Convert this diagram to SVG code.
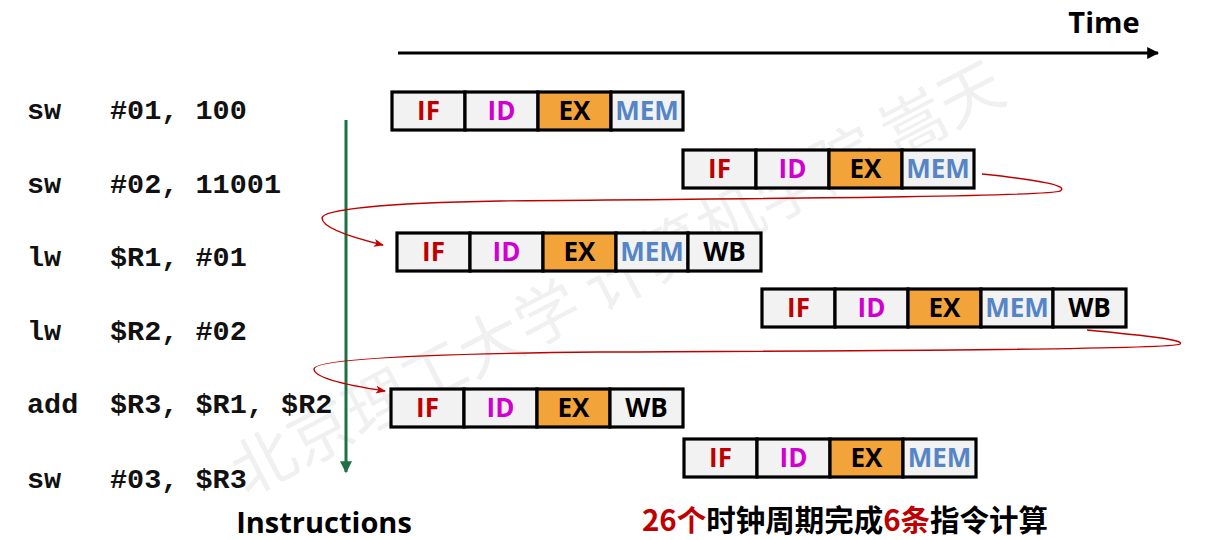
<svg xmlns="http://www.w3.org/2000/svg" width="1216" height="540" viewBox="0 0 1216 540">
<style>
.cell{fill:#f2f2f2;stroke:#000;stroke-width:3.2}
.ex{fill:#f2a33a;stroke:#000;stroke-width:3.2}
.st{font-family:"Open Sans","Noto Sans",sans-serif;font-weight:bold;font-size:26px;text-anchor:middle}
.IF{fill:#c00000}.ID{fill:#d000d0}.EX{fill:#000}.MEM{fill:#5585c5}.WB{fill:#000}
.code{font-family:"Liberation Mono","DejaVu Sans Mono",monospace;font-weight:bold;font-size:28.5px;fill:#111}
.lbl{font-family:"Open Sans","Noto Sans",sans-serif;font-weight:bold;fill:#000}
.cn{font-family:"Noto Sans CJK SC","Noto Sans",sans-serif;font-weight:bold;font-size:29.5px}
.loop{fill:none;stroke:#c00000;stroke-width:1.4}
</style>
<defs>
<marker id="ah" viewBox="0 0 10 10" refX="9" refY="5" markerWidth="10" markerHeight="10" markerUnits="userSpaceOnUse" orient="auto">
<path d="M0,1 L10,5 L0,9 L2.5,5 Z" fill="#c00000"/>
</marker>
<marker id="ahk" viewBox="0 0 10 10" refX="9" refY="5" markerWidth="4" markerHeight="4" orient="auto">
<path d="M0,0 L10,5 L0,10 Z" fill="#000"/>
</marker>
<marker id="ahg" viewBox="0 0 10 10" refX="9" refY="5" markerWidth="4" markerHeight="4" orient="auto">
<path d="M0,0 L10,5 L0,10 Z" fill="#1e7145"/>
</marker>
</defs>
<rect width="1216" height="540" fill="#fff"/>
<g id="watermark">
<text x="246" y="497" transform="rotate(-27.5 246 497)" font-family="Noto Sans CJK SC,sans-serif" font-size="64" fill="#000" fill-opacity="0.06">北京理工大学 计算机学院 嵩天</text>
</g>
<g id="connectors">
<line x1="398" y1="53" x2="1158" y2="53" stroke="#000" stroke-width="3" marker-end="url(#ahk)"/>
<line x1="346" y1="120" x2="346" y2="472" stroke="#1e7145" stroke-width="3" marker-end="url(#ahg)"/>
<path class="loop" marker-end="url(#ah)" d="M982 174 C1040 180 1070 186 1060 191 C1050 197 700 199 500 201 C380 203 322 210 322 218 C322 228 350 237 383 245"/>
<path class="loop" marker-end="url(#ah)" d="M1087 330 C1150 336 1185 340 1180 344 C1172 350 800 351 600 352 C400 354 314 360 314 369 C314 378 345 385 385 391"/>
</g>
<g id="time-label"><text class="lbl" x="1104" y="33" font-size="29" text-anchor="middle">Time</text></g>
<g id="instr1">
<text class="code" x="27" y="119">sw</text><text class="code" x="110" y="119">#01, 100</text>
</g>
<g id="instr2">
<text class="code" x="27" y="193">sw</text><text class="code" x="110" y="193">#02, 11001</text>
</g>
<g id="instr3">
<text class="code" x="27" y="266">lw</text><text class="code" x="110" y="266">$R1, #01</text>
</g>
<g id="instr4">
<text class="code" x="27" y="340">lw</text><text class="code" x="110" y="340">$R2, #02</text>
</g>
<g id="instr5">
<text class="code" x="27" y="413">add</text><text class="code" x="110" y="413">$R3, $R1, $R2</text>
</g>
<g id="instr6">
<text class="code" x="27" y="488">sw</text><text class="code" x="110" y="488">#03, $R3</text>
</g>
<g id="pipe1">
<rect class="cell" x="392" y="92" width="73" height="38"/><rect class="cell" x="465" y="92" width="73" height="38"/><rect class="ex" x="538" y="92" width="73" height="38"/><rect class="cell" x="611" y="92" width="72" height="38"/>
<text class="st IF" x="428.5" y="120">IF</text><text class="st ID" x="501.5" y="120">ID</text><text class="st EX" x="574.5" y="120">EX</text><text class="st MEM" x="647" y="120">MEM</text>
</g>
<g id="pipe2">
<rect class="cell" x="683" y="150" width="73" height="38"/><rect class="cell" x="756" y="150" width="73" height="38"/><rect class="ex" x="829" y="150" width="73" height="38"/><rect class="cell" x="902" y="150" width="72" height="38"/>
<text class="st IF" x="719.5" y="178">IF</text><text class="st ID" x="792.5" y="178">ID</text><text class="st EX" x="865.5" y="178">EX</text><text class="st MEM" x="938" y="178">MEM</text>
</g>
<g id="pipe3">
<rect class="cell" x="397" y="233" width="73" height="38"/><rect class="cell" x="470" y="233" width="73" height="38"/><rect class="ex" x="543" y="233" width="73" height="38"/><rect class="cell" x="616" y="233" width="72" height="38"/><rect class="cell" x="688" y="233" width="73" height="38"/>
<text class="st IF" x="433.5" y="261">IF</text><text class="st ID" x="506.5" y="261">ID</text><text class="st EX" x="579.5" y="261">EX</text><text class="st MEM" x="652" y="261">MEM</text><text class="st WB" x="724.5" y="261">WB</text>
</g>
<g id="pipe4">
<rect class="cell" x="762" y="289" width="73" height="38"/><rect class="cell" x="835" y="289" width="73" height="38"/><rect class="ex" x="908" y="289" width="73" height="38"/><rect class="cell" x="981" y="289" width="72" height="38"/><rect class="cell" x="1053" y="289" width="73" height="38"/>
<text class="st IF" x="798.5" y="317">IF</text><text class="st ID" x="871.5" y="317">ID</text><text class="st EX" x="944.5" y="317">EX</text><text class="st MEM" x="1017" y="317">MEM</text><text class="st WB" x="1089.5" y="317">WB</text>
</g>
<g id="pipe5">
<rect class="cell" x="391" y="389" width="73" height="38"/><rect class="cell" x="464" y="389" width="73" height="38"/><rect class="ex" x="537" y="389" width="73" height="38"/><rect class="cell" x="610" y="389" width="73" height="38"/>
<text class="st IF" x="427.5" y="417">IF</text><text class="st ID" x="500.5" y="417">ID</text><text class="st EX" x="573.5" y="417">EX</text><text class="st WB" x="646.5" y="417">WB</text>
</g>
<g id="pipe6">
<rect class="cell" x="684" y="439" width="73" height="38"/><rect class="cell" x="757" y="439" width="73" height="38"/><rect class="ex" x="830" y="439" width="73" height="38"/><rect class="cell" x="903" y="439" width="73" height="38"/>
<text class="st IF" x="720.5" y="467">IF</text><text class="st ID" x="793.5" y="467">ID</text><text class="st EX" x="866.5" y="467">EX</text><text class="st MEM" x="939.5" y="467">MEM</text>
</g>
<g id="instructions-label"><text class="lbl" x="324" y="533" font-size="29" text-anchor="middle">Instructions</text></g>
<g id="summary"><text class="cn" x="845" y="531" text-anchor="middle"><tspan fill="#c00000">26个</tspan><tspan fill="#000">时钟周期完成</tspan><tspan fill="#c00000">6条</tspan><tspan fill="#000">指令计算</tspan></text></g>
</svg>
